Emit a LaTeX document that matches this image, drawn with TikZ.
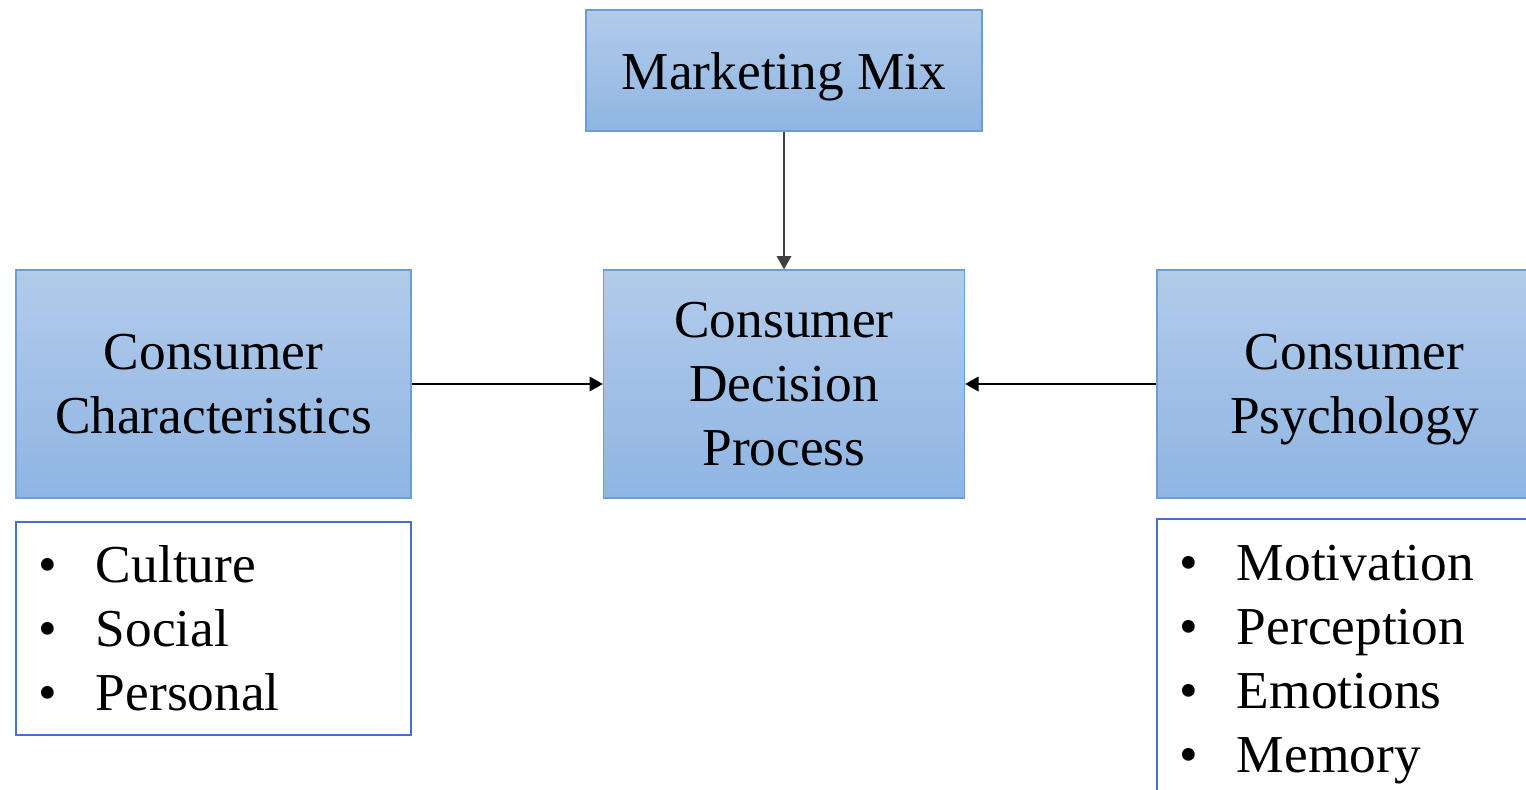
\documentclass[tikz,border=0pt]{standalone}
\usepackage{fontspec}
\setmainfont{Liberation Serif}
\usetikzlibrary{arrows.meta}
\definecolor{boxtop}{RGB}{178,203,234}
\definecolor{boxbottom}{RGB}{143,181,227}
\definecolor{boxline}{RGB}{110,157,214}
\definecolor{listline}{RGB}{68,114,196}

\begin{document}
\begin{tikzpicture}[
  x=0.75pt,y=-0.75pt,
  factor/.style={draw=boxline,line width=1pt,top color=boxtop,bottom color=boxbottom,
    align=center,inner sep=0pt,text depth=-4pt,font=\fontsize{40}{48}\selectfont},
  itemlist/.style={draw=listline,line width=1.1pt,fill=white,align=left,
    inner xsep=16.5pt,inner ysep=0pt,text width=263.25pt,font=\fontsize{40}{48}\selectfont},
  signal/.style={-{Triangle[length=10pt,width=11pt]},line width=1pt}
]
  \clip (0,0) rectangle (1526,789);
  \node[factor,minimum width=297pt,minimum height=90.75pt] (mix) at (784,70.5) {Marketing Mix};
  \node[factor,minimum width=270.75pt,minimum height=171pt] (process) at (784,384) {Consumer\\Decision\\Process};
  \node[factor,minimum width=296.25pt,minimum height=171pt] (traits) at (213.5,384) {Consumer\\Characteristics};
  \node[factor,minimum width=296.25pt,minimum height=171pt] (psyche) at (1354.5,384) {Consumer\\Psychology};

  \node[itemlist,minimum height=159.75pt] (traitlist) at (213.5,628.5)
    {\makebox[43.5pt][l]{\textbullet}Culture\\
     \makebox[43.5pt][l]{\textbullet}Social\\
     \makebox[43.5pt][l]{\textbullet}Personal};
  \node[itemlist,minimum height=218.25pt] (psychelist) at (1354.5,664.5)
    {\makebox[43.5pt][l]{\textbullet}Motivation\\
     \makebox[43.5pt][l]{\textbullet}Perception\\
     \makebox[43.5pt][l]{\textbullet}Emotions\\
     \makebox[43.5pt][l]{\textbullet}Memory};

  \path[signal]
    (mix) edge[draw=black!75] (process)
    (traits) edge (process)
    (psyche) edge (process);
\end{tikzpicture}
\end{document}
